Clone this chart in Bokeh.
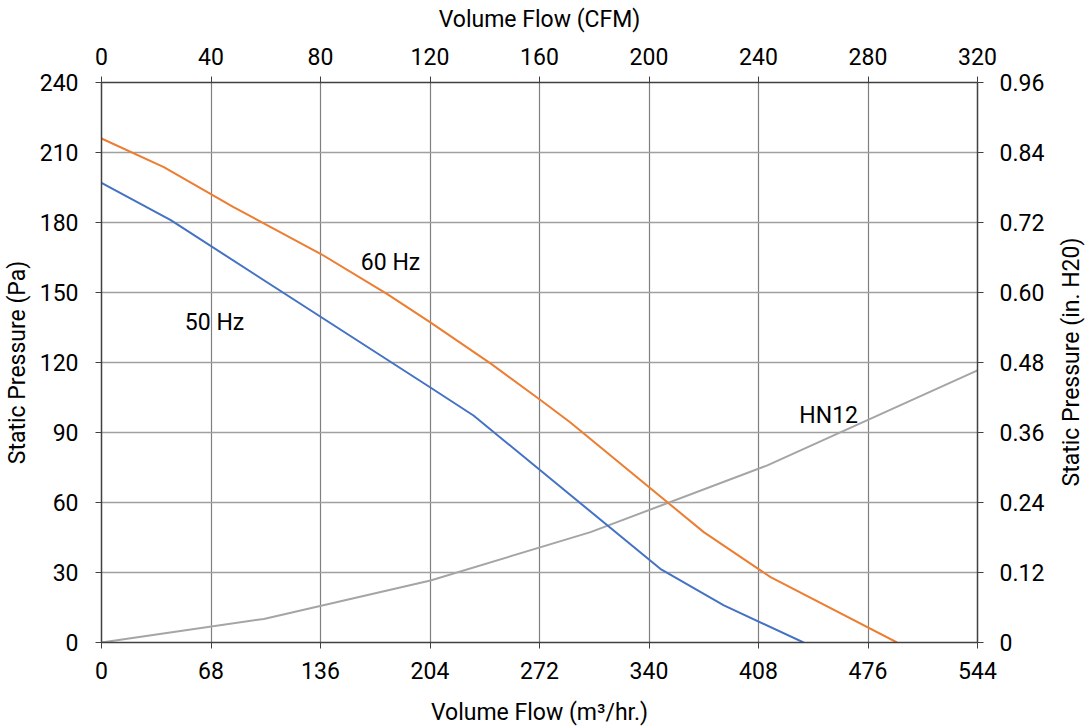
from bokeh.plotting import figure
from bokeh.layouts import row
from bokeh.models import (Range1d, LinearAxis, FixedTicker, CustomJSTickFormatter,
                          ColumnDataSource)
from bokeh.core.properties import value
from bokeh.embed import file_html
from bokeh.resources import INLINE

# ---- data (flow in m3/hr, static pressure in Pa) ----
flow_60hz = [0, 38.7, 82, 136, 177, 204, 242, 273, 291, 374, 415.5, 494]
pres_60hz = [216, 203.7, 186.6, 166.6, 149.5, 137.3, 119.4, 103.7, 94.4, 47.3, 28, 0]

flow_50hz = [0, 43, 204, 231, 347, 386.5, 436]
pres_50hz = [197, 181, 109.4, 97.3, 31.6, 15.9, 0]

flow_hn12 = [0, 100.8, 204.3, 303.7, 413.5, 544]
pres_hn12 = [0, 10.1, 26.6, 47.3, 75.9, 116.6]

label_text = ["60 Hz", "50 Hz", "HN12"]
label_flow = [179.5, 70.2, 451.6]
label_pres = [162.9, 137.2, 97.3]

bottom_ticks = [0, 68, 136, 204, 272, 340, 408, 476, 544]
top_ticks = [0, 40, 80, 120, 160, 200, 240, 280, 320]
left_ticks = [0, 30, 60, 90, 120, 150, 180, 210, 240]
right_ticks = [0, 0.12, 0.24, 0.36, 0.48, 0.6, 0.72, 0.84, 0.96]

x_title_bottom = "Volume Flow (m³/hr.)"
x_title_top = "Volume Flow (CFM)"
y_title_left = "Static Pressure (Pa)"
y_title_right = "Static Pressure (in. H20)"

FONT = "Roboto"
FS = "23px"
TXT = "#000000"

p = figure(frame_width=876, frame_height=560, output_backend="svg", toolbar_location=None,
           x_range=Range1d(0, 544), y_range=Range1d(0, 240),
           min_border_left=101, min_border_right=77, min_border_top=82, min_border_bottom=85)
p.extra_x_ranges = {"cfm": Range1d(0, 320)}
p.extra_y_ranges = {"inh2o": Range1d(0, 0.96)}
p.outline_line_color = None
p.background_fill_color = "white"
p.border_fill_color = "white"

def style_axis(ax, ticks):
    ax.ticker = FixedTicker(ticks=ticks)
    ax.axis_line_color = "#404040"
    ax.axis_line_width = 1.5
    ax.major_tick_line_color = "#404040"
    ax.major_tick_out = 6
    ax.major_tick_in = 0
    ax.minor_tick_line_color = None
    ax.major_label_text_font = FONT
    ax.major_label_text_font_size = FS
    ax.major_label_text_color = TXT
    ax.axis_label_text_font = FONT
    ax.axis_label_text_font_size = FS
    ax.axis_label_text_font_style = "normal"
    ax.axis_label_text_color = TXT

# bottom
xa = p.xaxis[0]
style_axis(xa, bottom_ticks)
xa.axis_label = x_title_bottom
xa.major_label_standoff = 13
xa.axis_label_standoff = 17

# left
ya = p.yaxis[0]
style_axis(ya, left_ticks)
ya.axis_label = y_title_left
ya.major_label_standoff = 17
ya.axis_label_standoff = 6

# top
ta = LinearAxis(x_range_name="cfm", axis_label=x_title_top)
style_axis(ta, top_ticks)
ta.major_label_standoff = 12
ta.axis_label_standoff = 12
p.add_layout(ta, "above")

# right
ra = LinearAxis(y_range_name="inh2o")
style_axis(ra, right_ticks)
ra.formatter = CustomJSTickFormatter(code="return tick == 0 ? '0' : tick.toFixed(2);")
ra.major_label_standoff = 16
p.add_layout(ra, "right")

p.xgrid.ticker = FixedTicker(ticks=bottom_ticks)
p.ygrid.ticker = FixedTicker(ticks=left_ticks)
p.xgrid.grid_line_color = "#7f7f7f"
p.xgrid.grid_line_width = 1.2
p.ygrid.grid_line_color = "#a0a0a0"
p.ygrid.grid_line_width = 1.5

p.line(flow_hn12, pres_hn12, line_color="#A5A5A5", line_width=2)
p.line(flow_50hz, pres_50hz, line_color="#4472C4", line_width=2)
p.line(flow_60hz, pres_60hz, line_color="#ED7D31", line_width=2)

src = ColumnDataSource(dict(x=label_flow, y=label_pres, t=label_text))
p.text(x="x", y="y", text="t", source=src, text_font=value(FONT),
       text_font_size=FS, text_color=TXT, text_align="center", text_baseline="middle")

# narrow companion figure that only carries the right-hand axis title,
# drawn as a left-side axis label so that it reads bottom-to-top
p2 = figure(width=34, height=727, output_backend="svg", toolbar_location=None,
            x_axis_location=None, y_axis_location="left",
            x_range=Range1d(0, 1), y_range=Range1d(0, 0.96),
            min_border_left=0, min_border_right=0, min_border_top=82, min_border_bottom=85)
p2.outline_line_color = None
p2.grid.visible = False
p2.background_fill_color = "white"
p2.border_fill_color = "white"
ya2 = p2.yaxis[0]
ya2.ticker = FixedTicker(ticks=[])
ya2.axis_line_color = None
ya2.major_tick_line_color = None
ya2.minor_tick_line_color = None
ya2.major_tick_out = 0
ya2.major_label_standoff = 0
ya2.axis_label_standoff = 0
ya2.axis_label = y_title_right
ya2.axis_label_text_font = FONT
ya2.axis_label_text_font_size = FS
ya2.axis_label_text_font_style = "normal"
ya2.axis_label_text_color = TXT

layout = row(p, p2, spacing=0)
open("out.html", "w").write(file_html(layout, INLINE))
